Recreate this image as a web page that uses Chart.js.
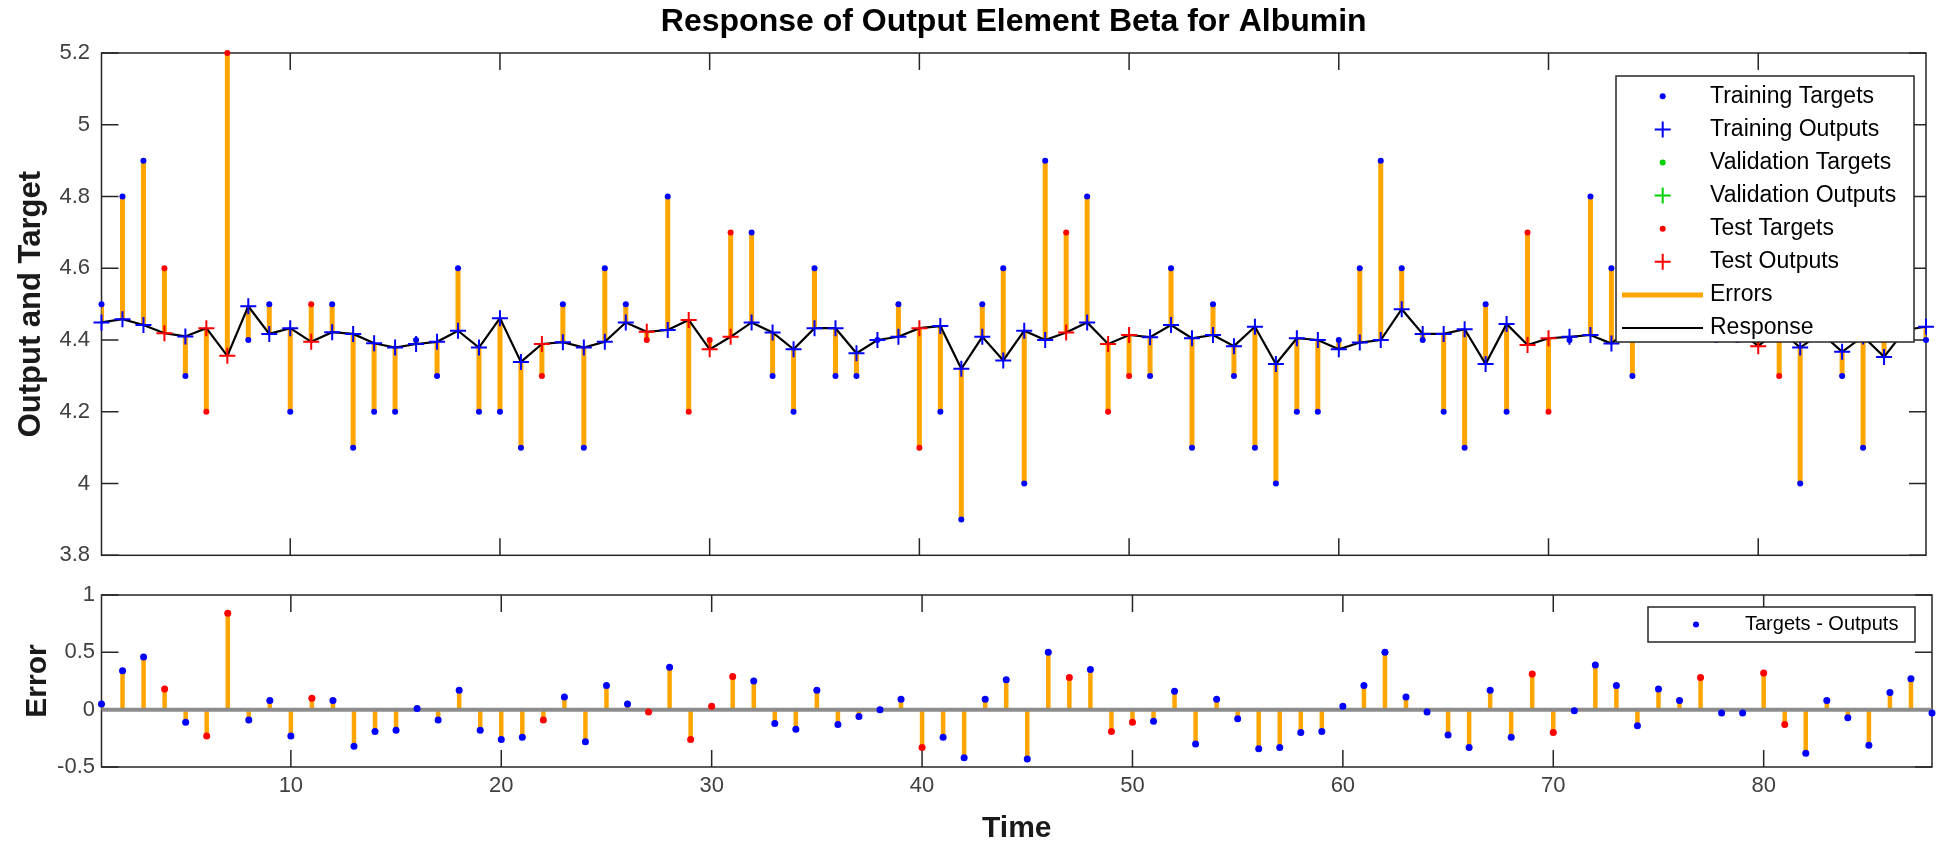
<!DOCTYPE html>
<html>
<head>
<meta charset="utf-8">
<title>Response of Output Element Beta for Albumin</title>
<script src="https://cdn.jsdelivr.net/npm/chart.js@4.4.0/dist/chart.umd.min.js"></script>
<style>
  html, body { margin: 0; padding: 0; background: #fff; }
  #wrap { position: relative; width: 1936px; height: 844px; overflow: hidden; }
  canvas { position: absolute; left: 0; }
  #top { top: 0; }
  #bottom { top: 560px; }
</style>
</head>
<body>
<div id="wrap">
  <canvas id="top" width="1936" height="580"></canvas>
  <canvas id="bottom" width="1936" height="284"></canvas>
</div>
<script>
// time steps 1..88
const timeSteps = Array.from({ length: 88 }, (_, i) => i + 1);

const targets = [
  4.5, 4.8, 4.9, 4.6, 4.3, 4.2, 5.2, 4.4, 4.5, 4.2,
  4.5, 4.5, 4.1, 4.2, 4.2, 4.4, 4.3, 4.6, 4.2, 4.2,
  4.1, 4.3, 4.5, 4.1, 4.6, 4.5, 4.4, 4.8, 4.2, 4.4,
  4.7, 4.7, 4.3, 4.2, 4.6, 4.3, 4.3, 4.4, 4.5, 4.1,
  4.2, 3.9, 4.5, 4.6, 4.0, 4.9, 4.7, 4.8, 4.2, 4.3,
  4.3, 4.6, 4.1, 4.5, 4.3, 4.1, 4.0, 4.2, 4.2, 4.4,
  4.6, 4.9, 4.6, 4.4, 4.2, 4.1, 4.5, 4.2, 4.7, 4.2,
  4.4, 4.8, 4.6, 4.3, 4.6, 4.5, 4.7, 4.4, 4.4, 4.7,
  4.3, 4.0, 4.5, 4.3, 4.1, 4.5, 4.7, 4.4
];

const outputs = [
  4.449, 4.458, 4.442, 4.419, 4.410, 4.433, 4.356, 4.494, 4.417, 4.433,
  4.395, 4.422, 4.417, 4.391, 4.379, 4.389, 4.395, 4.426, 4.379, 4.461,
  4.339, 4.389, 4.394, 4.379, 4.395, 4.449, 4.423, 4.428, 4.456, 4.374,
  4.409, 4.449, 4.421, 4.374, 4.433, 4.433, 4.363, 4.400, 4.409, 4.433,
  4.439, 4.320, 4.409, 4.343, 4.426, 4.400, 4.421, 4.449, 4.389, 4.414,
  4.408, 4.442, 4.405, 4.414, 4.383, 4.437, 4.333, 4.405, 4.400, 4.374,
  4.393, 4.400, 4.486, 4.417, 4.417, 4.430, 4.333, 4.445, 4.386, 4.405,
  4.409, 4.414, 4.390, 4.440, 4.420, 4.420, 4.420, 4.430, 4.430, 4.383,
  4.430, 4.379, 4.420, 4.367, 4.410, 4.353, 4.428, 4.437
];

// Targets - Outputs
const errors = [
  0.05, 0.34, 0.46, 0.18, -0.11, -0.23, 0.84, -0.09, 0.08, -0.23,
  0.10, 0.08, -0.32, -0.19, -0.18, 0.01, -0.09, 0.17, -0.18, -0.26,
  -0.24, -0.09, 0.11, -0.28, 0.21, 0.05, -0.02, 0.37, -0.26, 0.03,
  0.29, 0.25, -0.12, -0.17, 0.17, -0.13, -0.06, 0.00, 0.09, -0.33,
  -0.24, -0.42, 0.09, 0.26, -0.43, 0.50, 0.28, 0.35, -0.19, -0.11,
  -0.10, 0.16, -0.30, 0.09, -0.08, -0.34, -0.33, -0.20, -0.19, 0.03,
  0.21, 0.50, 0.11, -0.02, -0.22, -0.33, 0.17, -0.24, 0.31, -0.20,
  -0.01, 0.39, 0.21, -0.14, 0.18, 0.08, 0.28, -0.03, -0.03, 0.32,
  -0.13, -0.38, 0.08, -0.07, -0.31, 0.15, 0.27, -0.03
];

const testSteps = [4, 6, 7, 11, 22, 27, 29, 30, 31, 40, 47, 49, 50, 69, 70, 77, 80, 81];
const validationSteps = [];
const trainSteps = timeSteps.filter(t => !testSteps.includes(t) && !validationSteps.includes(t));

const xTicks = [10, 20, 30, 40, 50, 60, 70, 80];
const yTicksTop = [3.8, 4, 4.2, 4.4, 4.6, 4.8, 5, 5.2];
const yTicksErr = [-0.5, 0, 0.5, 1];

const FONT = '"Liberation Sans", Arial, Helvetica, sans-serif';
const BLUE = '#0000ff';
const RED = '#ff0000';
const GREEN = '#00d000';
const ORANGE = '#ffa500';

const pick = (steps, arr) => steps.map(t => ({ x: t, y: arr[t - 1] }));

// box + inward ticks like matlab axes
const matlabAxes = {
  id: 'matlabAxes',
  beforeDatasetsDraw(chart) {
    const { ctx, chartArea: a, scales: { x, y } } = chart;
    const len = 17;
    ctx.save();
    ctx.strokeStyle = '#262626';
    ctx.lineWidth = 1.5;
    ctx.beginPath();
    x.ticks.forEach(t => {
      const px = x.getPixelForValue(t.value);
      ctx.moveTo(px, a.bottom); ctx.lineTo(px, a.bottom - len);
      ctx.moveTo(px, a.top); ctx.lineTo(px, a.top + len);
    });
    y.ticks.forEach(t => {
      const py = y.getPixelForValue(t.value);
      ctx.moveTo(a.left, py); ctx.lineTo(a.left + len, py);
      ctx.moveTo(a.right, py); ctx.lineTo(a.right - len, py);
    });
    ctx.stroke();
    ctx.strokeRect(a.left, a.top, a.right - a.left, a.bottom - a.top);
    ctx.restore();
  }
};

// legend drawn the matlab way: marker column then text
const matlabLegend = {
  id: 'matlabLegend',
  afterDraw(chart, args, o) {
    const { ctx } = chart;
    ctx.save();
    ctx.fillStyle = '#fff';
    ctx.fillRect(o.left, o.top, o.width, o.height);
    ctx.strokeStyle = '#262626';
    ctx.lineWidth = 1.5;
    ctx.strokeRect(o.left, o.top, o.width, o.height);
    ctx.font = o.font;
    ctx.textBaseline = 'middle';
    ctx.textAlign = 'left';
    let row = 0;
    chart.data.datasets.forEach(ds => {
      if (ds.inLegend === false) return;
      const y = o.rowY0 + row * o.rowStep;
      if (ds.pointStyle === 'circle') {
        ctx.fillStyle = ds.pointBackgroundColor;
        ctx.beginPath();
        ctx.arc(o.markX, y, o.dotR, 0, Math.PI * 2);
        ctx.fill();
      } else if (ds.pointStyle === 'cross') {
        ctx.strokeStyle = ds.pointBorderColor;
        ctx.lineWidth = 2;
        ctx.beginPath();
        ctx.moveTo(o.markX - 8, y); ctx.lineTo(o.markX + 8, y);
        ctx.moveTo(o.markX, y - 8); ctx.lineTo(o.markX, y + 8);
        ctx.stroke();
      } else {
        ctx.strokeStyle = ds.borderColor;
        ctx.lineWidth = ds.borderWidth;
        ctx.beginPath();
        ctx.moveTo(o.lineX0, y); ctx.lineTo(o.lineX1, y);
        ctx.stroke();
      }
      ctx.fillStyle = '#000';
      ctx.fillText(ds.label, o.textX, y);
      row++;
    });
    ctx.restore();
  }
};

function dotSet(label, steps, arr, color, r) {
  return {
    label, data: pick(steps, arr), showLine: false, pointStyle: 'circle',
    pointRadius: r, pointBorderWidth: 0, pointBackgroundColor: color, pointBorderColor: color,
    borderColor: color, order: 0, clip: false
  };
}
function crossSet(label, steps, arr, color) {
  return {
    label, data: pick(steps, arr), showLine: false, pointStyle: 'cross',
    pointRadius: 8, pointBorderWidth: 2, pointBorderColor: color, pointBackgroundColor: color,
    borderColor: color, order: 0, clip: false
  };
}

const xScale = (extra) => Object.assign({
  type: 'linear', min: 1, max: 88,
  afterBuildTicks: s => { s.ticks = xTicks.map(v => ({ value: v })); },
  grid: { display: false, drawTicks: false },
  border: { display: false }
}, extra);

const numLabel = v => String(+Number(v).toFixed(1));

// ---------- top panel ----------
new Chart(document.getElementById('top'), {
  type: 'line',
  data: {
    datasets: [
      dotSet('Training Targets', trainSteps, targets, BLUE, 3),
      crossSet('Training Outputs', trainSteps, outputs, BLUE),
      dotSet('Validation Targets', validationSteps, targets, GREEN, 3),
      crossSet('Validation Outputs', validationSteps, outputs, GREEN),
      dotSet('Test Targets', testSteps, targets, RED, 3),
      crossSet('Test Outputs', testSteps, outputs, RED),
      {
        label: 'Errors',
        data: timeSteps.flatMap(t => [{ x: t, y: targets[t - 1] }, { x: t, y: outputs[t - 1] }, { x: t, y: null }]),
        borderColor: ORANGE, borderWidth: 5, borderCapStyle: 'butt', pointRadius: 0, spanGaps: false, order: 2
      },
      {
        label: 'Response',
        data: pick(timeSteps, outputs),
        borderColor: '#000', borderWidth: 2.2, pointRadius: 0, tension: 0, order: 1
      }
    ]
  },
  options: {
    responsive: false,
    animation: false,
    events: [],
    layout: { padding: { left: 0, right: 0.5, top: 0, bottom: 0 } },
    scales: {
      x: xScale({ ticks: { display: false }, afterFit: s => { s.height = 22; } }),
      y: {
        min: 3.8, max: 5.2,
        afterBuildTicks: s => { s.ticks = yTicksTop.map(v => ({ value: v })); },
        afterFit: s => { s.width = 101.5; },
        grid: { display: false, drawTicks: false },
        border: { display: false },
        ticks: { padding: 11.5, color: '#404040', font: { family: FONT, size: 22 }, callback: numLabel },
        title: {
          display: true, text: 'Output and Target', color: '#1a1a1a',
          font: { family: FONT, size: 31, weight: 'bold', lineHeight: 1.2 },
          padding: { top: 13, bottom: 0 }
        }
      }
    },
    plugins: {
      legend: { display: false },
      tooltip: { enabled: false },
      title: {
        display: true, fullSize: false, text: 'Response of Output Element Beta for Albumin',
        color: '#000', font: { family: FONT, size: 32, weight: 'bold', lineHeight: 1.2 },
        padding: { top: 3, bottom: 11.6 }
      },
      matlabLegend: {
        left: 1616, top: 76, width: 298, height: 266,
        rowY0: 96.3, rowStep: 33.1, markX: 1662.7, dotR: 3,
        lineX0: 1622, lineX1: 1703, textX: 1710,
        font: '23px ' + FONT
      }
    }
  },
  plugins: [matlabAxes, matlabLegend]
});

// ---------- error panel ----------
const errTrain = dotSet('Targets - Outputs', trainSteps, errors, BLUE, 3.5);
const errTest = dotSet('Targets - Outputs', testSteps, errors, RED, 3.5);
errTest.inLegend = false;

new Chart(document.getElementById('bottom'), {
  type: 'line',
  data: {
    datasets: [
      errTrain,
      errTest,
      {
        label: 'stems', inLegend: false,
        data: timeSteps.flatMap(t => [{ x: t, y: 0 }, { x: t, y: errors[t - 1] }, { x: t, y: null }]),
        borderColor: ORANGE, borderWidth: 4.5, borderCapStyle: 'butt', pointRadius: 0, spanGaps: false, order: 3
      },
      {
        label: 'zero', inLegend: false,
        data: [{ x: 1, y: 0 }, { x: 88, y: 0 }],
        borderColor: '#8c8c8c', borderWidth: 4, pointRadius: 0, order: 2
      }
    ]
  },
  options: {
    responsive: false,
    animation: false,
    events: [],
    layout: { padding: { left: 0, right: 0.5, top: 35, bottom: 0 } },
    scales: {
      x: xScale({
        afterFit: s => { s.height = 77; },
        ticks: { padding: 6, color: '#404040', font: { family: FONT, size: 22 }, callback: v => String(v) },
        title: {
          display: true, text: 'Time', color: '#1a1a1a',
          font: { family: FONT, size: 30, weight: 'bold', lineHeight: 1 },
          padding: { top: 0, bottom: 0 }
        }
      }),
      y: {
        min: -0.5, max: 1,
        afterBuildTicks: s => { s.ticks = yTicksErr.map(v => ({ value: v })); },
        afterFit: s => { s.width = 101.5; },
        grid: { display: false, drawTicks: false },
        border: { display: false },
        ticks: { padding: 6.5, color: '#404040', font: { family: FONT, size: 22 }, callback: numLabel },
        title: {
          display: true, text: 'Error', color: '#1a1a1a',
          font: { family: FONT, size: 30, weight: 'bold', lineHeight: 1.2 },
          padding: { top: 20, bottom: 0 }
        }
      }
    },
    plugins: {
      legend: { display: false },
      tooltip: { enabled: false },
      matlabLegend: {
        left: 1648, top: 47, width: 267, height: 35,
        rowY0: 64.5, rowStep: 0, markX: 1696, dotR: 3,
        lineX0: 1660, lineX1: 1730, textX: 1745,
        font: '20px ' + FONT
      }
    }
  },
  plugins: [matlabAxes, matlabLegend]
});
</script>
</body>
</html>
